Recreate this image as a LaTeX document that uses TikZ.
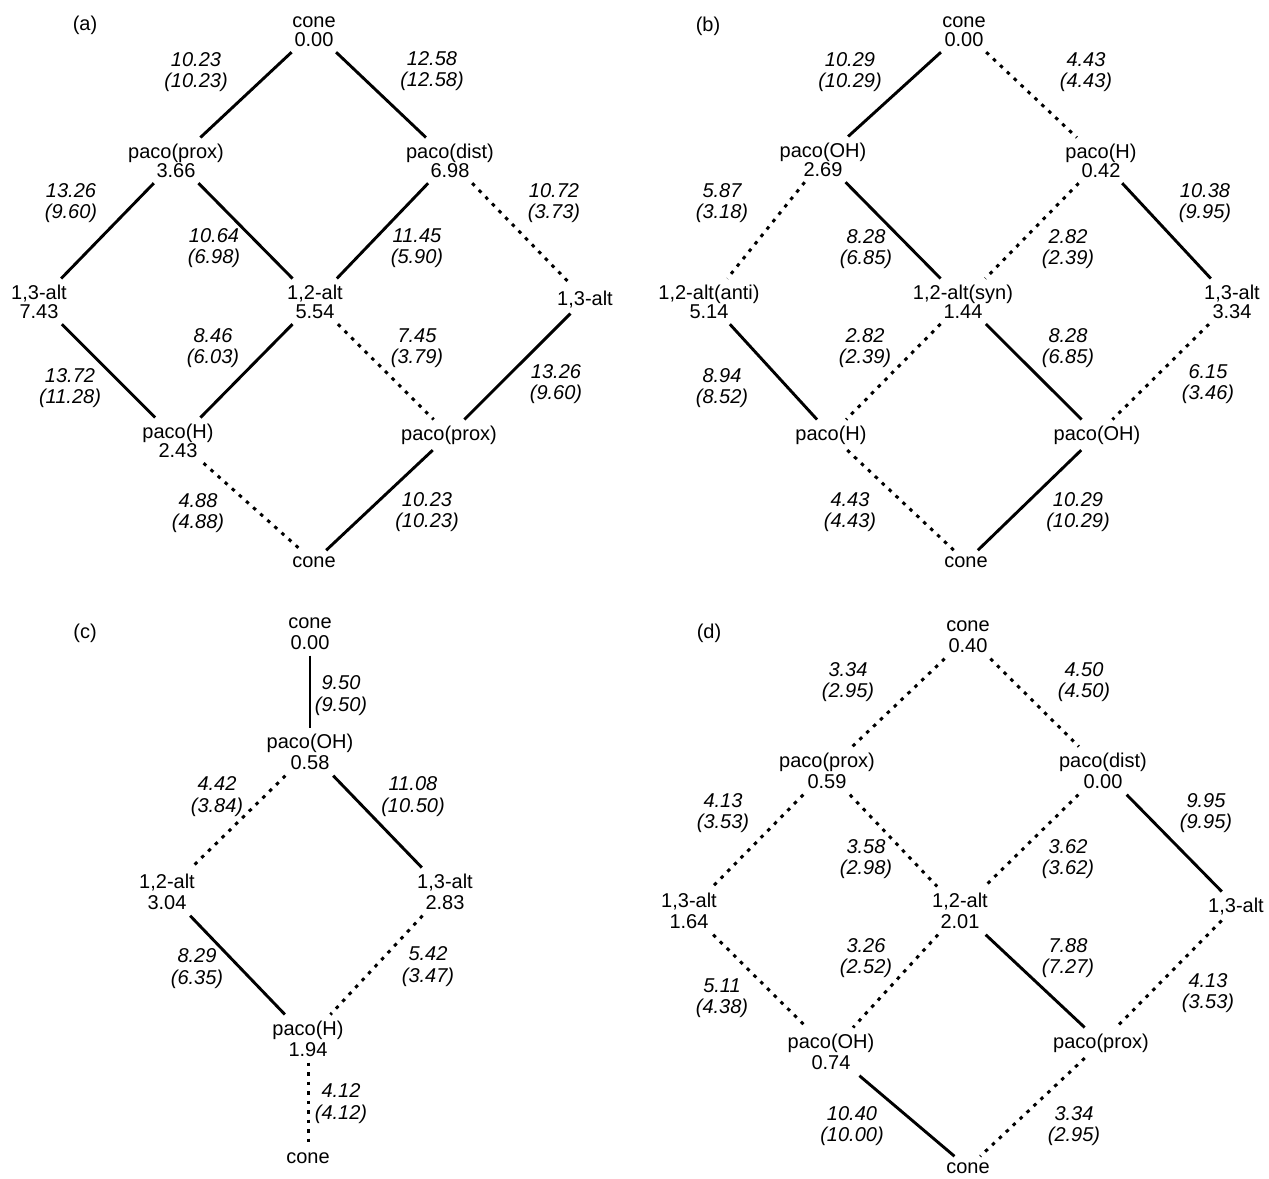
\documentclass[tikz,border=0pt]{standalone}
\usepackage{fontspec}
\setmainfont{Liberation Sans}
\begin{document}
\begin{tikzpicture}[x=1pt,y=-1pt,
  v1/.style={anchor=base, align=center, inner sep=1pt, outer sep=5pt, font=\fontsize{20}{19}\selectfont},
  v/.style={v1, yshift=-19pt},
  vl/.style={v1, font=\fontsize{20}{21.5}\selectfont, yshift=-21.5pt},
  lab/.style={anchor=base, align=center, inner sep=0pt, font=\fontsize{20}{21.5}\selectfont\itshape, yshift=-21.5pt},
  labl/.style={anchor=base, align=center, inner sep=0pt, font=\fontsize{20}{22.5}\selectfont\itshape, yshift=-22.5pt},
  ptag/.style={anchor=base, inner sep=0pt, font=\fontsize{20}{21}\selectfont},
  sol/.style={line width=2.9pt},
  dsh/.style={line width=3pt, dash pattern=on 3.5pt off 6pt}]
\fill[white] (0,0) rectangle (1269,1178);
\useasboundingbox (0,0) rectangle (1269,1178);

% ---------------- (a)
\node[ptag] (atag) at (85,30) {(a)};
\node[v] (a0) at (314,27) {cone\\0.00};
\node[v] (a1) at (176,158) {paco(prox)\\3.66};
\node[v] (a2) at (450,158) {paco(dist)\\6.98};
\node[v] (a3) at (39,299) {1,3-alt\\7.43};
\node[v] (a4) at (315,299) {1,2-alt\\5.54};
\node[v1] (a5) at (585,305) {1,3-alt};
\node[v] (a6) at (178,438) {paco(H)\\2.43};
\node[v1] (a7) at (449,440) {paco(prox)};
\node[v1] (a8) at (314,567) {cone};
\draw[sol] (a0) -- (a1);
\draw[sol] (a0) -- (a2);
\draw[sol] (a1) -- (a3);
\draw[sol] (a1) -- (a4);
\draw[sol] (a2) -- (a4);
\draw[dsh] (a2) -- (a5);
\draw[sol] (a3) -- (a6);
\draw[sol] (a4) -- (a6);
\draw[dsh] (a4) -- (a7);
\draw[sol] (a5) -- (a7);
\draw[dsh] (a6) -- (a8);
\draw[sol] (a7) -- (a8);
\node[lab] (la1) at (196,66) {10.23\\(10.23)};
\node[lab] (la2) at (432,65) {12.58\\(12.58)};
\node[lab] (la3) at (71,197) {13.26\\(9.60)};
\node[lab] (la4) at (214,242) {10.64\\(6.98)};
\node[lab] (la5) at (417,242) {11.45\\(5.90)};
\node[lab] (la6) at (554,197) {10.72\\(3.73)};
\node[lab] (la7) at (213,342) {8.46\\(6.03)};
\node[lab] (la8) at (417,342) {7.45\\(3.79)};
\node[lab] (la9) at (70,382) {13.72\\(11.28)};
\node[lab] (la10) at (556,378) {13.26\\(9.60)};
\node[lab] (la11) at (198,507) {4.88\\(4.88)};
\node[lab] (la12) at (427,506) {10.23\\(10.23)};

% ---------------- (b)
\node[ptag] (btag) at (708,31) {(b)};
\node[v] (b0) at (964,27) {cone\\0.00};
\node[v] (b1) at (823,157) {paco(OH)\\2.69};
\node[v] (b2) at (1101,158) {paco(H)\\0.42};
\node[v] (b3) at (709,299) {1,2-alt(anti)\\5.14};
\node[v] (b4) at (963,299) {1,2-alt(syn)\\1.44};
\node[v] (b5) at (1232,299) {1,3-alt\\3.34};
\node[v1] (b6) at (831,440) {paco(H)};
\node[v1] (b7) at (1097,440) {paco(OH)};
\node[v1] (b8) at (966,567) {cone};
\draw[sol] (b0) -- (b1);
\draw[dsh] (b0) -- (b2);
\draw[dsh] (b1) -- (b3);
\draw[sol] (b1) -- (b4);
\draw[dsh] (b2) -- (b4);
\draw[sol] (b2) -- (b5);
\draw[sol] (b3) -- (b6);
\draw[dsh] (b4) -- (b6);
\draw[sol] (b4) -- (b7);
\draw[dsh] (b5) -- (b7);
\draw[dsh] (b6) -- (b8);
\draw[sol] (b7) -- (b8);
\node[lab] (lb1) at (850,66) {10.29\\(10.29)};
\node[lab] (lb2) at (1086,66) {4.43\\(4.43)};
\node[lab] (lb3) at (722,197) {5.87\\(3.18)};
\node[lab] (lb4) at (866,243) {8.28\\(6.85)};
\node[lab] (lb5) at (1068,243) {2.82\\(2.39)};
\node[lab] (lb6) at (1205,197) {10.38\\(9.95)};
\node[lab] (lb7) at (865,342) {2.82\\(2.39)};
\node[lab] (lb8) at (1068,342) {8.28\\(6.85)};
\node[lab] (lb9) at (1208,378) {6.15\\(3.46)};
\node[lab] (lb10) at (722,382) {8.94\\(8.52)};
\node[lab] (lb11) at (850,506) {4.43\\(4.43)};
\node[lab] (lb12) at (1078,506) {10.29\\(10.29)};

% ---------------- (c)
\node[ptag] (ctag) at (85,638) {(c)};
\node[vl] (c0) at (310,628) {cone\\0.00};
\node[vl] (c1) at (310,748) {paco(OH)\\0.58};
\node[vl] (c2) at (167,888) {1,2-alt\\3.04};
\node[vl] (c3) at (445,888) {1,3-alt\\2.83};
\node[vl] (c4) at (308,1035) {paco(H)\\1.94};
\node[v1] (c5) at (308,1163) {cone};
\draw[sol] (c0) -- (c1);
\draw[dsh] (c1) -- (c2);
\draw[sol] (c1) -- (c3);
\draw[sol] (c2) -- (c4);
\draw[dsh] (c3) -- (c4);
\draw[dsh] (c4) -- (c5);
\node[labl] (lc1) at (341,689) {9.50\\(9.50)};
\node[labl] (lc2) at (217,790) {4.42\\(3.84)};
\node[labl] (lc3) at (413,790) {11.08\\(10.50)};
\node[labl] (lc4) at (197,962) {8.29\\(6.35)};
\node[labl] (lc5) at (428,960) {5.42\\(3.47)};
\node[labl] (lc6) at (341,1097) {4.12\\(4.12)};

% ---------------- (d)
\node[ptag] (dtag) at (709,638) {(d)};
\node[vl] (d0) at (968,631) {cone\\0.40};
\node[vl] (d1) at (827,767) {paco(prox)\\0.59};
\node[vl] (d2) at (1103,767) {paco(dist)\\0.00};
\node[vl] (d3) at (689,907) {1,3-alt\\1.64};
\node[vl] (d4) at (960,907) {1,2-alt\\2.01};
\node[v1] (d5) at (1236,912) {1,3-alt};
\node[vl] (d6) at (831,1048) {paco(OH)\\0.74};
\node[v1] (d7) at (1101,1048) {paco(prox)};
\node[v1] (d8) at (968,1173) {cone};
\draw[dsh] (d0) -- (d1);
\draw[dsh] (d0) -- (d2);
\draw[dsh] (d1) -- (d3);
\draw[dsh] (d1) -- (d4);
\draw[dsh] (d2) -- (d4);
\draw[sol] (d2) -- (d5);
\draw[dsh] (d3) -- (d6);
\draw[dsh] (d4) -- (d6);
\draw[sol] (d4) -- (d7);
\draw[dsh] (d5) -- (d7);
\draw[sol] (d6) -- (d8);
\draw[dsh] (d7) -- (d8);
\node[lab] (ld1) at (848,676) {3.34\\(2.95)};
\node[lab] (ld2) at (1084,676) {4.50\\(4.50)};
\node[lab] (ld3) at (723,807) {4.13\\(3.53)};
\node[lab] (ld4) at (866,853) {3.58\\(2.98)};
\node[lab] (ld5) at (1068,853) {3.62\\(3.62)};
\node[lab] (ld6) at (1206,807) {9.95\\(9.95)};
\node[lab] (ld7) at (866,952) {3.26\\(2.52)};
\node[lab] (ld8) at (1068,952) {7.88\\(7.27)};
\node[lab] (ld9) at (722,992) {5.11\\(4.38)};
\node[lab] (ld10) at (1208,987) {4.13\\(3.53)};
\node[lab] (ld11) at (852,1120) {10.40\\(10.00)};
\node[lab] (ld12) at (1074,1120) {3.34\\(2.95)};
\end{tikzpicture}
\end{document}
